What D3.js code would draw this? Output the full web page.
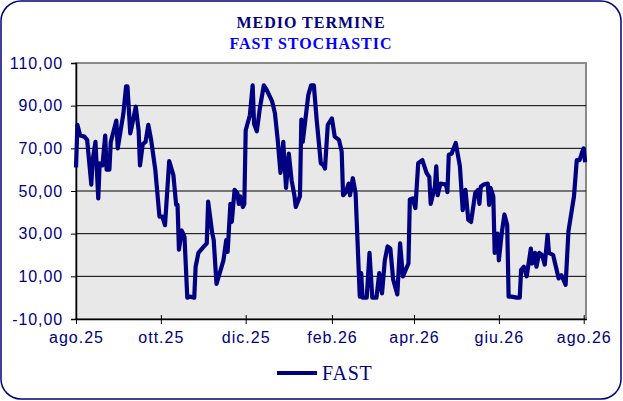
<!DOCTYPE html>
<html>
<head>
<meta charset="utf-8">
<script src="https://cdn.jsdelivr.net/npm/d3@7"></script>
<style>
  body { margin: 0; background: #fff; }
  svg { display: block; }
</style>
</head>
<body>
<svg id="chart" width="623" height="401"></svg>
<script>
// FAST stochastic, values
var dates = [
  "2025-08-01","2025-08-02","2025-08-04","2025-08-07","2025-08-09","2025-08-12","2025-08-13","2025-08-15",
  "2025-08-17","2025-08-18","2025-08-20","2025-08-22","2025-08-23","2025-08-25","2025-08-26","2025-08-30",
  "2025-08-31","2025-09-02","2025-09-04","2025-09-06","2025-09-07","2025-09-09","2025-09-10","2025-09-13",
  "2025-09-15","2025-09-16","2025-09-18","2025-09-20","2025-09-22","2025-09-24","2025-09-27","2025-09-30",
  "2025-10-02","2025-10-04","2025-10-07","2025-10-10","2025-10-12","2025-10-13","2025-10-14","2025-10-16",
  "2025-10-18","2025-10-20","2025-10-22","2025-10-25","2025-10-26","2025-10-28","2025-11-01","2025-11-03",
  "2025-11-04","2025-11-07","2025-11-08","2025-11-10","2025-11-13","2025-11-15","2025-11-17","2025-11-18",
  "2025-11-20","2025-11-21","2025-11-23","2025-11-25","2025-11-26","2025-11-27","2025-11-29","2025-11-30",
  "2025-12-01","2025-12-04","2025-12-06","2025-12-07","2025-12-09","2025-12-11","2025-12-14","2025-12-16",
  "2025-12-20","2025-12-22","2025-12-24","2025-12-26","2025-12-28","2025-12-30","2026-01-01","2026-01-03",
  "2026-01-05","2026-01-06","2026-01-09","2026-01-10","2026-01-11","2026-01-13","2026-01-15","2026-01-17",
  "2026-01-19","2026-01-21","2026-01-24","2026-01-26","2026-01-27","2026-01-29","2026-02-01","2026-02-03",
  "2026-02-06","2026-02-08","2026-02-09","2026-02-11","2026-02-13","2026-02-14","2026-02-16","2026-02-18",
  "2026-02-21","2026-02-22","2026-02-23","2026-02-26","2026-02-28","2026-03-02","2026-03-05","2026-03-07",
  "2026-03-09","2026-03-11","2026-03-13","2026-03-15","2026-03-17","2026-03-20","2026-03-22","2026-03-24",
  "2026-03-28","2026-03-29","2026-03-31","2026-04-02","2026-04-04","2026-04-07","2026-04-10","2026-04-12",
  "2026-04-13","2026-04-16","2026-04-17","2026-04-18","2026-04-20","2026-04-24","2026-04-25","2026-04-26",
  "2026-04-28","2026-05-01","2026-05-04","2026-05-06","2026-05-08","2026-05-10","2026-05-12","2026-05-15",
  "2026-05-17","2026-05-18","2026-05-19","2026-05-21","2026-05-24","2026-05-25","2026-05-26","2026-05-28",
  "2026-05-29","2026-05-31","2026-06-01","2026-06-03","2026-06-05","2026-06-07","2026-06-08","2026-06-10",
  "2026-06-14","2026-06-16","2026-06-17","2026-06-19","2026-06-21","2026-06-24","2026-06-25","2026-06-27",
  "2026-06-28","2026-06-30","2026-07-02","2026-07-04","2026-07-06","2026-07-07","2026-07-10","2026-07-14",
  "2026-07-16","2026-07-19","2026-07-21","2026-07-25","2026-07-27","2026-07-29","2026-07-31","2026-08-01",
  "2026-08-02"
];
var fast = [
  61, 81, 76, 75.5, 74, 53, 64.5, 73,
  46.5, 63, 62, 76, 60, 60, 73, 83,
  70, 78, 86, 99, 99, 77, 80, 89.5,
  78.5, 62, 72, 73, 81, 74, 60, 38,
  38, 34, 64, 57.5, 43.5, 43.5, 22.5, 31.5,
  28.5, 0, 0.5, 0, 14.5, 21, 24, 25.5,
  45, 30, 27, 6.5, 13, 17.5, 27, 21.5,
  44, 35.5, 50.5, 49, 44, 47.5, 42.5, 44,
  78.5, 85.5, 99.5, 81.5, 78, 88, 99.5, 97.5,
  92, 86.5, 74, 58.5, 73, 51.5, 67.5, 55,
  48, 42.5, 47.5, 83.5, 73, 84, 95, 99.5,
  99.5, 83.5, 63, 62, 60.5, 81, 84, 75.5,
  74, 68.5, 48, 49.5, 53.5, 48, 56, 49,
  0.5, 11.5, 0, 0, 21, 0, 0, 11.5,
  2, 17.5, 24, 23, 8.5, 1.5, 25.5, 10,
  16, 46, 46.5, 42, 63, 64.5, 58.5, 56.5,
  44, 52, 61.5, 48, 53.5, 53, 49.5, 67,
  67.5, 72.5, 61.5, 41, 50.5, 36.5, 35.5, 49,
  50.5, 44, 52, 53, 53.5, 43.5, 51.5, 47.5,
  21, 30, 17.5, 30, 39, 34, 0.5, 0.5,
  0, 0, 13, 14.5, 10, 23, 16, 21,
  14.5, 21, 20, 15.5, 29.5, 21, 20, 9,
  10.5, 6, 31, 47.5, 64.5, 64.5, 68.5, 70,
  63.5
];
var xTickDates = ["2025-08-01","2025-10-01","2025-12-01","2026-02-01","2026-04-01","2026-06-01","2026-08-01"];
var xTickLabels = ["ago.25","ott.25","dic.25","feb.26","apr.26","giu.26","ago.26"];
var yTicks = [-10, 10, 30, 50, 70, 90, 110];
var titleLines = ["MEDIO TERMINE", "FAST STOCHASTIC"];
var seriesName = "FAST";

var parseDate = d3.timeParse("%Y-%m-%d");
var points = dates.map(function (d, i) { return { date: parseDate(d), value: fast[i] }; });

var navy = "#000080";
var serif = "'Liberation Serif', 'Times New Roman', serif";
var sans = "'Liberation Sans', Arial, sans-serif";
var itLocale = d3.formatLocale({ decimal: ",", thousands: ".", grouping: [3], currency: ["", "\u20ac"], minus: "-" });
var fmt = itLocale.format(".2f");

var svg = d3.select("#chart");
var plot = { left: 76, right: 586, top: 63, bottom: 319 };

var x = d3.scaleTime()
    .domain([parseDate("2025-08-01"), parseDate("2026-08-03")])
    .range([plot.left, plot.right + 0.5]);
var y = d3.scaleLinear().domain([-10, 110]).range([plot.bottom, plot.top]);

// outer frame
svg.append("rect")
    .attr("x", 1).attr("y", 1).attr("width", 620).attr("height", 398)
    .attr("rx", 20).attr("ry", 20)
    .attr("fill", "#fff").attr("stroke", navy).attr("stroke-width", 1.5);

// titles
svg.append("text").attr("x", 311).attr("y", 28)
    .attr("text-anchor", "middle")
    .attr("font-family", serif).attr("font-size", 16).attr("font-weight", "bold")
    .attr("letter-spacing", 1)
    .attr("fill", navy).text(titleLines[0]);
svg.append("text").attr("x", 311).attr("y", 49)
    .attr("text-anchor", "middle")
    .attr("font-family", serif).attr("font-size", 16).attr("font-weight", "bold")
    .attr("letter-spacing", 1)
    .attr("fill", "#0000ff").text(titleLines[1]);

// plot area
svg.append("rect")
    .attr("x", plot.left).attr("y", plot.top)
    .attr("width", plot.right - plot.left).attr("height", plot.bottom - plot.top)
    .attr("fill", "#e8e8e8").attr("stroke", "#8a8a8a").attr("stroke-width", 2);

// gridlines
svg.append("g").selectAll("line")
    .data(yTicks.filter(function (v) { return v > -10 && v < 110; }))
    .enter().append("line")
    .attr("x1", plot.left).attr("x2", plot.right)
    .attr("y1", function (d) { return y(d); }).attr("y2", function (d) { return y(d); })
    .attr("stroke", "#000").attr("stroke-width", 1);

// y axis
var yAxis = svg.append("g")
    .attr("transform", "translate(" + plot.left + ",0)")
    .call(d3.axisLeft(y).tickValues(yTicks).tickFormat(fmt).tickSize(5).tickPadding(8));
yAxis.select(".domain").attr("stroke", "#000").attr("stroke-width", 1.5);
yAxis.selectAll(".tick line").attr("stroke", "#000");
yAxis.selectAll("text")
    .attr("font-family", sans).attr("font-size", 16).attr("letter-spacing", 0.9)
    .attr("fill", navy);

// x axis
var xAxis = svg.append("g")
    .attr("transform", "translate(0," + plot.bottom + ")")
    .call(d3.axisBottom(x)
        .tickValues(xTickDates.map(parseDate))
        .tickFormat(function (d, i) { return xTickLabels[i]; })
        .tickSizeInner(5).tickSizeOuter(0).tickPadding(8));
xAxis.select(".domain").attr("stroke", "#000").attr("stroke-width", 1.5);
xAxis.selectAll(".tick line").attr("stroke", "#000").attr("y1", -4);
xAxis.selectAll("text")
    .attr("font-family", sans).attr("font-size", 16).attr("letter-spacing", 1)
    .attr("fill", navy);

// series line
var line = d3.line()
    .x(function (d) { return x(d.date); })
    .y(function (d) { return y(d.value); });

svg.append("path")
    .datum(points)
    .attr("fill", "none")
    .attr("stroke", navy)
    .attr("stroke-width", 4.2)
    .attr("stroke-linejoin", "round")
    .attr("d", line);

// legend
var legend = svg.append("g").attr("transform", "translate(277,373)");
legend.append("line")
    .attr("x1", 0).attr("x2", 40).attr("y1", 0).attr("y2", 0)
    .attr("stroke", navy).attr("stroke-width", 4);
legend.append("text")
    .attr("x", 45).attr("y", 7)
    .attr("font-family", serif).attr("font-size", 20).attr("letter-spacing", 0.8)
    .attr("fill", navy).text(seriesName);
</script>
</body>
</html>
